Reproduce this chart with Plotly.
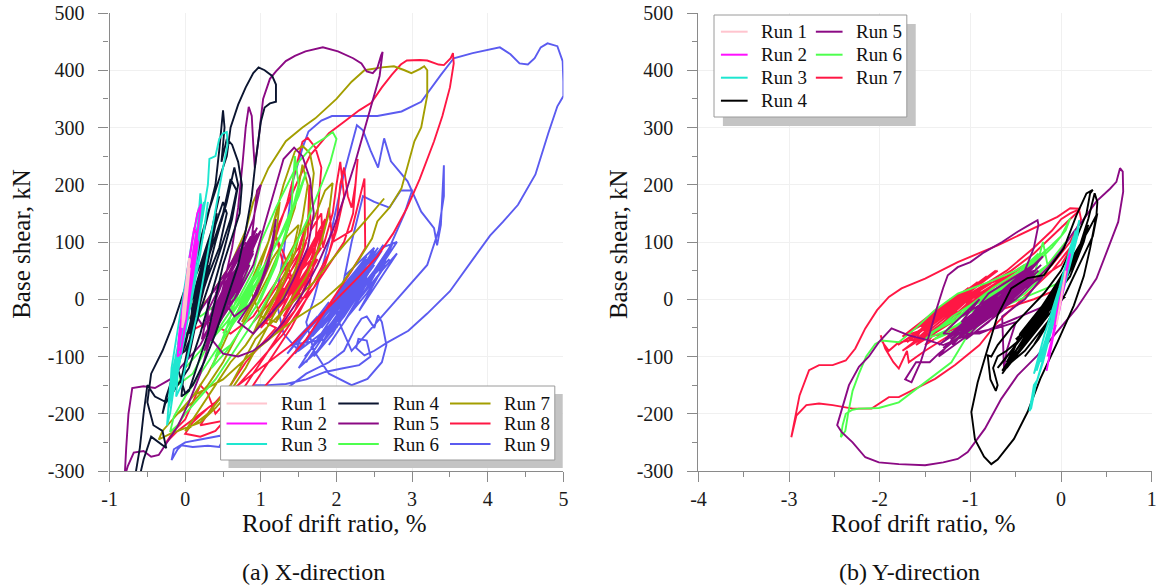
import plotly.graph_objects as go

# ---------------- data: roof drift ratio (%) vs base shear (kN) ----------------
RUN_LABELS_X = ["Run 1", "Run 2", "Run 3", "Run 4", "Run 5", "Run 6", "Run 7", "Run 8", "Run 9"]
RUN_LABELS_Y = ["Run 1", "Run 2", "Run 3", "Run 4", "Run 5", "Run 6", "Run 7"]

COLORS_X = ["#FFC4CE", "#FF10FF", "#1EE6D0", "#0B1530", "#8B0A84",
            "#4DFF4D", "#A39E00", "#FF1744", "#5B5BF0"]
COLORS_Y = ["#FFC4CE", "#FF10FF", "#1EE6D0", "#000000", "#8B0A84",
            "#4DFF4D", "#FF1744"]

X_TICKS_A = [-1, 0, 1, 2, 3, 4, 5]
X_TICKS_B = [-4, -3, -2, -1, 0, 1]
Y_TICKS = [-300, -200, -100, 0, 100, 200, 300, 400, 500]

# X-direction
X_RUN1 = [(0.0, 0), (0.03, 35), (0.06, 68), (0.05, 72), (0.01, 30), (-0.03, -20), (-0.04, -50),
          (-0.01, -35), (0.03, 15), (0.06, 55), (0.04, 45), (0.0, -5), (-0.03, -40), (0.0, -10),
          (0.04, 40), (0.02, 20), (0.0, 0)]

X_RUN2 = [(0.0, 0), (0.08, 60), (0.15, 115), (0.12, 125), (0.03, 50), (-0.04, -40), (-0.09, -90),
          (-0.05, -85), (0.04, -10), (0.13, 80), (0.19, 140), (0.21, 166), (0.16, 150), (0.07, 80),
          (-0.02, 0), (-0.08, -60), (-0.1, -100), (-0.06, -95), (0.02, -30), (0.1, 40), (0.17, 100),
          (0.14, 110), (0.05, 40), (-0.03, -30), (-0.07, -70), (0.0, -20), (0.09, 50), (0.16, 105),
          (0.12, 95), (0.03, 20), (-0.05, -50), (0.06, 30), (0.14, 90), (0.0, 0)]

X_RUN3 = [(0.0, 0), (0.1, 60), (0.2, 130), (0.18, 160), (0.1, 110), (0.0, 30), (-0.1, -50),
          (-0.18, -120), (-0.2, -160), (-0.15, -140), (-0.05, -60), (0.05, 20), (0.15, 100),
          (0.2, 185), (0.22, 160), (0.15, 120), (0.05, 40), (-0.08, -70), (-0.2, -150), (-0.24, -220),
          (-0.2, -200), (-0.1, -110), (0.0, -30), (0.1, 50), (0.2, 120), (0.3, 200), (0.32, 245),
          (0.4, 250), (0.45, 280), (0.5, 290), (0.55, 292), (0.56, 270), (0.5, 230), (0.42, 170),
          (0.33, 100), (0.25, 40), (0.15, -30), (0.05, -90), (-0.05, -150), (-0.12, -170),
          (-0.1, -130), (0.0, -60), (0.1, 10), (0.2, 80), (0.28, 150), (0.3, 170), (0.25, 120),
          (0.15, 50), (0.05, -20), (-0.05, -90), (-0.15, -160), (-0.08, -110), (0.05, -10),
          (0.15, 70), (0.2, 120), (0.12, 60), (0.0, 0), (-0.15, -150), (0.1, 60), (-0.1, -100),
          (0.15, 110), (-0.05, -60), (0.2, 140), (0.0, -20), (-0.18, -160), (0.05, 20),
          (-0.12, -110), (0.12, 90), (-0.08, -70), (0.18, 130), (0.02, 0), (-0.2, -170), (0.08, 40),
          (-0.1, -80), (0.25, 170), (0.05, 30), (-0.22, -190), (0.0, -40), (-0.18, -150), (0.05, 0),
          (-0.12, -120), (0.12, 60), (-0.06, -80), (0.18, 110), (0.0, -40), (0.22, 150),
          (-0.15, -130), (0.1, 50)]

X_RUN4 = [(0.0, 0), (0.2, 60), (0.35, 120), (0.3, 80), (0.15, 0), (0.0, -80), (-0.15, -130),
          (-0.25, -170), (-0.3, -200), (-0.2, -150), (-0.05, -60), (0.1, 40), (0.25, 120), (0.4, 200),
          (0.45, 260), (0.5, 330), (0.52, 300), (0.48, 240), (0.55, 280), (0.62, 270), (0.7, 240),
          (0.75, 200), (0.72, 150), (0.6, 100), (0.5, 60), (0.4, 0), (0.3, -60), (0.15, -120),
          (0.05, -160), (-0.05, -170), (-0.02, -130), (0.1, -60), (0.25, 20), (0.4, 100), (0.55, 170),
          (0.65, 230), (0.7, 200), (0.62, 140), (0.5, 80), (0.35, 10), (0.2, -60), (0.05, -120),
          (-0.1, -150), (-0.25, -180), (-0.4, -170), (-0.5, -150), (-0.55, -200), (-0.6, -260),
          (-0.65, -300), (-0.68, -330), (-0.62, -320), (-0.55, -280), (-0.45, -240), (-0.35, -250),
          (-0.25, -260), (-0.3, -230), (-0.42, -220), (-0.5, -180), (-0.45, -130), (-0.3, -90),
          (-0.15, -40), (0.0, 20), (0.15, 80), (0.3, 150), (0.45, 210), (0.55, 250), (0.6, 300),
          (0.7, 340), (0.8, 370), (0.9, 395), (0.97, 405), (1.05, 400), (1.15, 390), (1.2, 375),
          (1.2, 345), (1.12, 342), (1.05, 335), (1.0, 310), (0.93, 240), (0.88, 180), (0.8, 120),
          (0.7, 60), (0.55, 0), (0.4, -60), (0.25, -110), (0.1, -150), (0.0, -165), (-0.1, -120),
          (0.05, -50), (0.2, 30), (0.35, 90), (0.5, 150), (0.6, 210), (0.68, 190), (0.6, 140),
          (0.45, 80), (0.3, 20), (0.15, -40), (0.0, -90), (-0.1, -100), (0.0, -40), (0.2, 50),
          (0.35, 110), (0.5, 170), (0.55, 150), (0.45, 90), (0.3, 40), (0.15, -20), (0.05, -60),
          (0.1, -10), (0.25, 60), (0.3, 70), (0.05, -100), (0.3, 60), (0.1, -60), (0.35, 100),
          (0.15, -30), (0.4, 130), (0.2, 0), (0.0, -120), (0.25, 30), (0.05, -80), (0.3, 80),
          (0.12, -40), (0.38, 120), (0.2, 20), (-0.05, -140), (0.22, 10), (0.02, -100), (0.28, 70),
          (0.1, -20), (0.33, 110), (0.18, 40), (0.42, 150), (0.25, 60), (0.45, 180), (0.3, 90),
          (0.1, 0), (0.25, 50), (0.05, -60)]

X_RUN5 = [(0.0, 0), (0.25, -50), (0.55, 30), (0.45, -20), (0.75, 70), (0.6, 10), (0.9, 100),
          (0.7, 30), (0.4, -40), (0.6, 0), (0.35, -70), (0.65, 40), (0.5, -10), (0.8, 80),
          (0.95, 115), (0.7, 20), (0.3, -60), (0.45, -10), (0.7, 50), (0.55, 20), (0.85, 60),
          (0.65, 0), (0.4, -30), (0.2, -80), (0.0, -110), (-0.2, -140), (-0.4, -155), (-0.55, -152),
          (-0.7, -155), (-0.75, -200), (-0.78, -260), (-0.8, -310), (-0.76, -292), (-0.68, -268),
          (-0.55, -265), (-0.45, -275), (-0.35, -272), (-0.25, -252), (-0.1, -222), (0.05, -180),
          (0.2, -130), (0.35, -60), (0.5, 20), (0.62, 90), (0.7, 160), (0.76, 240), (0.8, 300),
          (0.84, 336), (0.88, 320), (0.9, 270), (0.92, 230), (0.97, 280), (1.03, 350), (1.12, 385),
          (1.2, 398), (1.33, 416), (1.45, 425), (1.59, 433), (1.7, 437), (1.82, 440), (2.02, 433),
          (2.22, 421), (2.33, 412), (2.4, 398), (2.48, 395), (2.54, 404), (2.59, 426), (2.61, 432),
          (2.57, 390), (2.41, 316), (2.25, 240), (2.11, 181), (1.95, 120), (1.75, 60), (1.55, 10),
          (1.3, -40), (1.1, -70), (0.9, -90), (0.7, -100), (0.5, -95), (0.35, -70), (0.5, -20),
          (0.75, 40), (0.9, 80), (0.6, 30), (0.35, -20), (0.55, 50), (0.8, 110), (0.7, 60), (0.45, 0),
          (0.3, -40), (0.6, 20), (0.85, 90), (1.0, 120), (0.8, 60), (0.5, -30), (0.25, -90),
          (0.4, -50), (0.7, 10), (0.9, 60), (1.05, 130), (1.2, 200), (1.3, 245), (1.44, 265),
          (1.55, 250), (1.65, 210), (1.7, 150), (1.62, 90), (1.45, 40), (1.3, 0), (1.1, -30),
          (0.9, -60), (0.7, -40), (0.95, 10), (1.1, 60), (1.2, 140), (1.15, 90), (1.0, 30),
          (0.85, -10), (0.65, -30), (0.5, 0), (0.7, 40), (0.85, 70), (0.95, 190), (1.0, 200),
          (0.9, 140), (0.75, 90), (0.55, 40), (0.35, 10), (0.2, -20), (0.4, 20), (0.6, 60),
          (0.8, 100), (0.65, 70), (0.45, 30), (0.3, 0), (0.3, -60), (0.55, 10), (0.35, -45),
          (0.65, 35), (0.42, -25), (0.72, 55), (0.5, -5), (0.8, 75), (0.58, 15), (0.86, 95),
          (0.62, 30), (0.4, -40), (0.68, 45), (0.45, -20), (0.75, 60), (0.5, 0), (0.82, 85),
          (0.6, 25), (0.33, -55), (0.57, 5), (0.28, -75), (0.6, 20), (0.38, -35), (0.7, 50),
          (0.48, -10), (0.78, 70), (0.55, 10), (0.88, 105), (0.66, 40), (0.92, 120), (0.7, 55),
          (0.44, -15), (0.73, 45), (0.52, -20), (0.8, 65), (0.6, 10), (0.36, -60), (0.64, 25),
          (0.42, -35), (0.76, 55), (0.5, 5), (0.84, 90), (0.63, 35), (0.9, 95), (0.68, 30),
          (0.47, -25), (0.26, -85), (0.52, -5), (0.32, -50), (0.62, 15), (0.4, -20), (0.71, 40),
          (0.54, 0), (0.83, 80), (0.6, 40), (0.37, -30), (0.66, 50), (0.46, 0), (0.74, 65),
          (0.56, 20), (0.87, 110), (0.7, 70), (0.5, 20), (0.78, 90), (0.6, 50), (0.4, 10),
          (0.65, 60), (0.45, 20), (0.3, -20), (0.22, -70), (0.5, -10), (0.27, -60), (0.58, 20),
          (0.34, -40), (0.66, 40), (0.41, -25), (0.74, 60), (0.49, -5), (0.81, 80), (0.56, 15),
          (0.89, 100), (0.64, 35), (0.95, 125), (0.72, 55), (0.48, -15), (0.79, 70), (0.53, 5),
          (0.85, 95), (0.61, 25), (0.38, -45), (0.69, 45), (0.43, -30), (0.77, 65), (0.51, -10),
          (0.3, -65), (0.59, 15), (0.35, -50), (0.67, 40), (0.93, 110), (0.7, 30), (0.46, -35),
          (0.75, 50), (0.54, -15), (0.82, 75), (0.62, 5), (0.9, 85), (0.67, 20)]

X_RUN6 = [(0.0, 0), (0.2, -30), (0.4, -10), (0.6, 20), (0.8, 60), (0.9, 90), (0.8, 40), (0.6, -10),
          (0.4, -50), (0.2, -90), (0.0, -120), (-0.1, -150), (0.1, -130), (0.3, -80), (0.5, -40),
          (0.7, 0), (0.9, 50), (1.0, 100), (1.1, 130), (1.2, 160), (1.35, 200), (1.5, 240),
          (1.7, 270), (1.85, 282), (1.95, 292), (2.0, 280), (1.92, 240), (1.8, 200), (1.62, 140),
          (1.4, 80), (1.2, 30), (1.0, -20), (0.8, -60), (0.6, -100), (0.4, -140), (0.2, -170),
          (0.0, -200), (-0.1, -220), (-0.2, -232), (-0.15, -205), (0.0, -170), (0.2, -130),
          (0.4, -90), (0.6, -50), (0.8, -10), (1.0, 40), (1.15, 80), (1.05, 50), (0.85, 10),
          (0.65, -30), (0.5, -60), (0.7, -20), (0.9, 20), (1.1, 70), (1.3, 120), (1.5, 180),
          (1.6, 222), (1.45, 170), (1.25, 110), (1.05, 60), (0.85, 20), (0.55, -40), (0.35, -70),
          (0.6, -20), (0.75, 80), (0.95, 110), (0.8, 70), (0.6, 30), (0.45, -20), (0.3, -60),
          (0.5, -30), (0.7, 10), (0.55, -50), (0.4, -100), (0.6, -80), (0.8, -40), (1.0, 0),
          (1.2, 60), (1.4, 150), (1.45, 250), (1.5, 200), (1.35, 120), (1.15, 50), (0.95, -10),
          (0.75, -50), (0.55, -90), (0.35, -120), (0.5, -70), (0.7, -30), (0.9, 0), (0.65, -40),
          (0.95, 30), (0.7, -10), (1.0, 60), (0.8, 0), (0.55, -60), (0.85, 20), (0.6, -30),
          (0.9, 40)]

X_RUN7 = [(0.0, -40), (0.3, 0), (0.6, 60), (0.8, 120), (0.9, 170), (1.0, 200), (1.1, 229),
          (1.33, 276), (1.55, 300), (1.72, 316), (2.0, 350), (2.2, 380), (2.37, 400), (2.6, 405),
          (2.76, 407), (2.9, 400), (2.99, 395), (3.1, 402), (3.16, 407), (3.2, 400), (3.2, 356),
          (3.12, 300), (3.03, 276), (2.86, 194), (2.7, 160), (2.54, 136), (2.47, 106), (2.3, 70),
          (2.07, 27), (1.8, -5), (1.48, -32), (1.2, -60), (0.86, -97), (0.5, -140), (0.11, -168),
          (-0.1, -200), (-0.3, -230), (-0.35, -245), (-0.2, -235), (0.0, -225), (0.2, -215),
          (0.4, -190), (0.6, -160), (0.8, -120), (1.0, -70), (1.2, -20), (1.4, 30), (1.55, 90),
          (1.65, 160), (1.7, 220), (1.65, 255), (1.55, 268), (1.45, 258), (1.3, 200), (1.2, 150),
          (1.1, 100), (0.9, 40), (0.7, -20), (0.5, -80), (0.3, -130), (0.1, -170), (-0.1, -200),
          (0.1, -180), (0.3, -150), (0.5, -110), (0.7, -60), (0.9, -10), (1.1, 40), (1.3, 100),
          (1.45, 160), (1.55, 235), (1.62, 200), (1.55, 140), (1.45, 80), (1.3, 30), (1.1, -20),
          (0.9, -60), (1.1, 0), (1.3, 60), (1.5, 110), (1.7, 140), (1.85, 190), (1.95, 203),
          (1.9, 150), (1.8, 100), (1.6, 40), (1.4, 0), (1.2, -40), (1.0, -30), (0.85, 20),
          (1.0, 60), (1.15, 120), (1.25, 170), (1.2, 110), (1.05, 50), (0.9, 0), (0.75, -40),
          (0.95, 10), (1.15, 70), (1.35, 110), (1.5, 130), (1.4, 70), (1.2, 10), (1.0, -40),
          (0.8, -80), (0.6, -110), (0.4, -150), (0.2, -190), (0.0, -230), (0.3, -200), (0.6, -150),
          (0.93, -69), (1.3, -20), (1.7, 30), (2.1, 95), (2.4, 140), (2.63, 176)]

X_RUN8 = [(0.0, -60), (0.3, -40), (0.6, -60), (0.9, -30), (1.1, 10), (1.3, 50), (1.5, 90),
          (1.6, 130), (1.5, 80), (1.3, 40), (1.1, 0), (0.9, -40), (1.1, -10), (1.3, 30), (1.5, 70),
          (1.62, 110), (1.64, 200), (1.66, 120), (1.8, 150), (1.82, 90), (1.95, 150), (2.0, 200),
          (2.05, 240), (2.1, 180), (2.0, 120), (1.85, 60), (1.7, 20), (1.5, -20), (1.3, -60),
          (1.1, -90), (0.9, -120), (0.7, -150), (0.5, -170), (0.3, -190), (0.1, -215), (0.0, -235),
          (0.2, -240), (0.4, -230), (0.6, -200), (0.8, -170), (1.0, -130), (1.2, -90), (1.4, -50),
          (1.6, 0), (1.7, 60), (1.75, 150), (1.8, 230), (1.72, 265), (1.62, 282), (1.55, 275),
          (1.45, 220), (1.35, 170), (1.2, 110), (1.05, 50), (0.9, 0), (1.05, 60), (1.2, 120),
          (1.33, 159), (1.5, 210), (1.65, 251), (1.9, 290), (2.11, 311), (2.3, 330), (2.46, 343),
          (2.6, 370), (2.73, 392), (2.85, 410), (2.93, 417), (3.1, 418), (3.2, 417), (3.35, 410),
          (3.42, 409), (3.51, 421), (3.54, 430), (3.55, 412), (3.5, 370), (3.4, 320), (3.29, 276),
          (3.1, 210), (2.93, 159), (2.75, 115), (2.54, 75), (2.3, 40), (2.0, 0), (1.7, -40),
          (1.4, -80), (1.1, -110), (0.8, -140), (0.5, -170), (0.2, -200), (-0.1, -230),
          (-0.25, -250), (-0.15, -230), (0.0, -210), (0.1, -180), (0.2, -150), (0.3, -165),
          (0.4, -200), (0.5, -185), (0.6, -200), (0.7, -170), (0.9, -130), (1.1, -90), (1.3, -50),
          (1.5, -10), (1.7, 30), (1.9, 80), (2.0, 130), (2.05, 200), (2.1, 230), (2.15, 180),
          (2.2, 160), (2.25, 200), (2.28, 245), (2.22, 150), (2.1, 100), (1.9, 60), (1.7, 20),
          (1.55, 0), (1.4, 40), (1.3, 80), (1.2, 110), (1.3, 60), (1.4, 30), (1.6, 60), (1.8, 90),
          (1.6, 50), (1.4, 10), (1.2, -20), (1.0, -50), (1.3, 20), (1.15, -20), (1.5, 60),
          (1.35, 10), (1.7, 100), (1.5, 40), (1.2, -40), (1.45, 30), (1.25, -10), (1.6, 80),
          (1.8, 120), (1.55, 30), (1.3, -30), (1.5, 10), (1.75, 70), (1.6, 50), (1.4, 0),
          (1.65, 90), (1.85, 140), (1.7, 60), (1.45, -20), (1.2, -60), (1.4, -10), (1.6, 40),
          (1.8, 100), (1.9, 160), (1.95, 100), (2.2, 120), (2.37, 211), (2.38, 89), (2.2, 50),
          (2.0, 10), (1.8, -30), (1.6, -70), (1.4, -100), (1.2, -130), (1.0, -160), (0.8, -190),
          (0.6, -210), (0.4, -215), (0.2, -220), (0.4, -180), (0.6, -150), (0.8, -110), (1.0, -80),
          (1.2, -50), (1.05, -40), (1.4, 20), (1.15, -25), (1.5, 45), (1.25, -5), (1.6, 70),
          (1.3, 10), (1.7, 95), (1.4, 30), (1.1, -35), (1.45, 35), (1.2, -15), (1.55, 60), (1.3, 5),
          (1.65, 85), (1.4, 25), (1.75, 110), (1.5, 50), (1.2, -20), (1.6, 65), (1.35, 15),
          (1.8, 120), (1.55, 55), (1.25, 0), (1.5, 40), (1.15, -30), (1.45, 30), (1.7, 90),
          (1.45, 40), (1.6, 100), (1.4, 50), (1.2, 0)]

X_RUN9 = [(1.6, -110), (2.0, -30), (1.8, -80), (2.2, 10), (2.0, -50), (2.4, 40), (2.2, -10),
          (2.6, 70), (2.4, 20), (2.1, -40), (2.5, 50), (2.7, 90), (2.45, 30), (2.2, -20), (1.9, -80),
          (2.3, 0), (2.6, 50), (2.8, 80), (2.5, 20), (2.3, -20), (2.55, 40), (2.75, 100), (2.5, 50),
          (2.2, 0), (1.95, -60), (1.7, -100), (2.05, -30), (2.35, 30), (2.65, 60), (2.4, 10),
          (2.15, -30), (2.45, 40), (2.7, 70), (2.4, 30), (2.1, -20), (1.8, -60), (1.5, -90),
          (1.3, -60), (1.2, 0), (1.3, 80), (1.42, 205), (1.55, 264), (1.63, 293), (1.8, 312),
          (1.94, 320), (2.2, 320), (2.54, 320), (2.86, 328), (3.12, 345), (3.38, 392), (3.55, 421),
          (3.8, 430), (4.16, 440), (4.3, 428), (4.42, 412), (4.53, 410), (4.62, 421), (4.7, 440),
          (4.79, 447), (4.92, 442), (4.99, 416), (5.0, 380), (5.0, 355), (4.92, 337), (4.8, 290),
          (4.63, 218), (4.4, 165), (4.2, 135), (4.03, 111), (3.81, 71), (3.5, 14), (3.2, -25),
          (2.95, -55), (2.68, -75), (2.5, -90), (2.37, -98), (2.26, -85), (2.29, -69), (2.4, -72),
          (2.45, -100), (2.3, -115), (2.07, -121), (1.85, -127), (1.6, -140), (1.33, -148),
          (1.1, -150), (0.93, -150), (0.7, -170), (0.6, -220), (0.45, -258), (0.3, -256),
          (0.1, -258), (-0.05, -255), (-0.1, -262), (-0.18, -281), (-0.15, -262), (0.0, -250),
          (0.2, -245), (0.4, -240), (0.6, -235), (0.8, -210), (1.0, -190), (1.3, -160), (1.6, -130),
          (1.9, -110), (2.1, -90), (2.25, -50), (2.33, -34), (2.4, -30), (2.5, -50), (2.55, -28),
          (2.6, -40), (2.66, -80), (2.6, -110), (2.41, -139), (2.2, -150), (1.9, -130), (1.7, -90),
          (1.6, -40), (1.7, 0), (1.9, 100), (2.1, 220), (2.27, 304), (2.35, 295), (2.45, 260),
          (2.55, 230), (2.63, 281), (2.72, 241), (2.94, 206), (3.12, 153), (3.29, 124), (3.33, 94),
          (3.38, 130), (3.42, 234), (3.42, 180), (3.35, 120), (3.2, 60), (3.0, 30), (2.8, 0),
          (2.6, -30), (2.4, -60), (2.2, -90), (2.0, -30), (2.2, 100), (2.35, 180), (2.5, 170),
          (2.7, 160), (2.85, 190), (3.0, 190), (2.9, 150), (2.8, 120), (2.7, 90), (2.6, 60),
          (2.3, 10), (2.0, -40), (1.75, -90), (1.5, -120), (1.8, -60), (2.0, -20), (2.2, 20),
          (2.4, 60), (2.6, 90), (2.8, 100), (2.6, 60), (2.35, 20), (2.1, -30), (1.85, -70),
          (1.4, -80), (1.75, -30), (1.5, -75), (1.9, -5), (1.62, -55), (2.05, 10), (1.75, -40),
          (2.2, 35), (1.85, -25), (2.3, 55), (1.95, -10), (2.4, 70), (2.05, 5), (2.5, 85),
          (2.15, 20), (1.8, -45), (2.25, 30), (1.9, -30), (2.35, 45), (2.0, -15), (2.45, 60),
          (2.1, 0), (2.55, 90), (2.2, 25), (1.85, -35), (1.5, -85), (1.95, -20), (1.6, -70),
          (2.1, 15), (1.7, -50), (2.2, 40), (1.8, -35), (2.3, 50), (1.95, -5), (2.4, 75),
          (2.05, 15), (2.5, 80), (2.15, 30), (2.45, 70), (2.0, 0), (1.65, -60), (2.15, 20),
          (1.75, -45), (2.25, 45), (1.85, -20), (2.35, 65), (2.0, 10), (2.42, 55), (2.1, 15),
          (1.7, -40), (1.35, -95), (1.55, -60), (1.45, -95), (1.85, -40), (1.55, -80), (1.98, -20),
          (1.68, -65), (2.12, 0), (1.8, -50), (2.25, 20), (1.92, -35), (2.38, 40), (2.02, -20),
          (2.5, 60), (2.14, -5), (2.6, 85), (2.26, 15), (1.9, -55), (2.32, 25), (1.96, -40),
          (2.42, 45), (2.06, -25), (2.52, 70), (2.16, -5), (2.62, 95), (2.28, 30), (1.94, -45),
          (1.58, -100), (2.0, -35), (1.66, -85), (2.14, -10), (1.76, -70), (2.24, 10), (1.86, -55),
          (2.34, 35), (1.98, -20), (2.44, 55), (2.08, 0), (2.54, 75), (2.2, 20), (2.5, 90),
          (2.1, 40)]

# Y-direction
Y_RUN1 = [(0.0, 0), (0.03, 30), (0.05, 50), (0.02, 20), (-0.02, -20), (-0.05, -45), (-0.03, -30),
          (0.01, 10), (0.04, 40), (0.0, 0)]

Y_RUN2 = [(0.0, 0), (0.05, 40), (0.09, 75), (0.07, 60), (0.0, 10), (-0.06, -40), (-0.12, -90),
          (-0.16, -125), (-0.14, -110), (-0.08, -60), (-0.02, -20), (0.04, 30), (0.1, 80),
          (0.06, 50), (-0.03, -10), (-0.1, -70), (-0.15, -100), (-0.1, -75), (-0.04, -30),
          (0.03, 20), (0.07, 55), (0.02, 15), (-0.05, -35), (0.0, 0)]

Y_RUN3 = [(0.0, 0), (0.08, 50), (0.15, 100), (0.2, 138), (0.18, 110), (0.1, 60), (0.0, 0),
          (-0.08, -40), (-0.15, -80), (-0.22, -120), (-0.28, -150), (-0.33, -190), (-0.35, -195),
          (-0.32, -170), (-0.3, -150), (-0.26, -140), (-0.2, -110), (-0.12, -60), (-0.05, -20),
          (0.03, 30), (0.1, 80), (0.14, 110), (0.1, 90), (0.02, 40), (-0.06, -10), (-0.15, -60),
          (-0.25, -110), (-0.3, -130), (-0.25, -100), (-0.18, -60), (-0.1, -20), (-0.02, 20),
          (0.05, 60), (0.0, 30), (-0.08, -20), (-0.16, -80), (-0.2, -100), (-0.12, -50),
          (-0.04, 0), (0.0, 0), (-0.22, -110), (0.06, 50), (-0.18, -90), (0.12, 90), (-0.27, -125),
          (0.02, 20), (-0.14, -70), (0.16, 120), (-0.06, -30), (0.0, 10)]

Y_RUN4 = [(0.0, 0), (-0.1, -30), (-0.25, -60), (-0.4, -90), (-0.55, -110), (-0.65, -125),
          (-0.55, -100), (-0.4, -70), (-0.25, -40), (-0.1, -10), (0.0, 20), (0.1, 50), (0.2, 90),
          (0.1, 60), (-0.05, 10), (-0.2, -30), (-0.35, -60), (-0.5, -90), (-0.6, -110), (-0.5, -80),
          (-0.35, -50), (-0.2, -20), (-0.05, 10), (0.1, 40), (0.25, 100), (0.3, 130), (0.2, 90),
          (0.05, 40), (-0.1, 0), (-0.3, -40), (-0.45, -70), (-0.6, -90), (-0.7, -100),
          (-0.75, -120), (-0.7, -150), (-0.72, -160), (-0.78, -140), (-0.81, -98), (-0.77, -100),
          (-0.7, -80), (-0.55, -50), (-0.37, -20), (-0.19, 10), (0.0, 50), (0.15, 100), (0.28, 150),
          (0.32, 185), (0.35, 191), (0.28, 185), (0.17, 147), (0.03, 89), (-0.19, 42), (-0.37, 37),
          (-0.55, 19), (-0.7, -28), (-0.81, -86), (-0.92, -145), (-0.99, -197), (-0.95, -245),
          (-0.85, -275), (-0.77, -288), (-0.7, -280), (-0.6, -260), (-0.52, -244), (-0.37, -197),
          (-0.23, -139), (-0.04, -75), (0.14, -11), (0.25, 40), (0.32, 89), (0.39, 147),
          (0.4, 170), (0.37, 185), (0.3, 140), (0.2, 90), (0.05, 40), (-0.1, 0), (-0.25, -40),
          (-0.4, -70), (-0.55, -100), (-0.45, -60), (-0.3, -30), (-0.15, 0), (0.0, 40), (0.15, 80),
          (0.3, 120), (0.4, 150), (0.35, 110), (0.2, 60), (0.05, 10), (-0.1, -30), (-0.25, -70),
          (-0.4, -100), (-0.3, -80), (-0.15, -40), (0.0, 0), (-0.6, -120), (-0.1, -10),
          (-0.5, -100), (0.0, 20), (-0.4, -80), (0.1, 50), (-0.3, -60), (0.2, 80), (-0.2, -40),
          (-0.55, -110), (-0.05, 0), (-0.45, -90), (0.05, 30), (-0.35, -70), (0.15, 70),
          (-0.25, -50), (0.25, 100), (-0.15, -20), (-0.65, -130), (-0.2, -30), (0.0, 10),
          (-0.4, -60), (0.1, 40), (-0.7, -120), (-0.2, -20), (-0.62, -105), (-0.12, 0),
          (-0.55, -90), (-0.05, 15), (-0.48, -75), (0.03, 35), (-0.42, -60), (0.1, 55),
          (-0.35, -45), (0.18, 80), (-0.28, -30), (0.24, 100), (-0.2, -15), (-0.6, -115),
          (-0.15, -5), (-0.52, -95), (-0.08, 10), (-0.45, -80), (0.0, 25), (-0.38, -65),
          (0.07, 45), (-0.3, -50), (0.14, 65), (-0.22, -35), (0.2, 85), (-0.12, -15), (-0.5, -70),
          (0.05, 5)]

Y_RUN5 = [(0.0, 0), (-0.3, -20), (-0.6, -40), (-0.9, -60), (-1.3, -60), (-0.9, 0), (-1.1, -40),
          (-0.6, 20), (-0.9, -20), (-0.4, 50), (-0.7, 0), (-1.0, -50), (-0.75, -10), (-1.2, -70),
          (-0.8, 10), (-0.5, 40), (-0.3, 60), (-0.6, 10), (-1.0, -60), (-1.35, -100), (-1.1, -50),
          (-0.7, -10), (-0.45, 30), (-0.2, 75), (-0.5, 30), (-0.85, -20), (-1.2, -80), (-0.95, -30),
          (-0.6, 0), (-0.35, 40), (-0.65, -20), (-1.05, -70), (-0.8, -40), (-0.5, 10), (-0.3, 90),
          (-0.25, 130), (-0.26, 138), (-0.35, 130), (-0.48, 118), (-0.65, 100), (-0.85, 82),
          (-1.0, 65), (-1.14, 56), (-1.25, 42), (-1.3, 20), (-1.38, -20), (-1.45, -60),
          (-1.55, -110), (-1.65, -145), (-1.72, -140), (-1.6, -110), (-1.45, -110), (-1.35, -95),
          (-1.2, -75), (-1.0, -50), (-0.8, -30), (-0.6, -10), (-0.4, 20), (-0.2, 40), (-0.4, 0),
          (-0.65, -30), (-0.63, -121), (-0.6, -90), (-0.5, -40), (-0.7, -50), (-1.0, -60),
          (-1.3, -80), (-1.5, -70), (-1.68, -63), (-1.87, -51), (-2.01, -75), (-2.12, -100),
          (-2.23, -118), (-2.34, -150), (-2.47, -220), (-2.42, -232), (-2.3, -250), (-2.16, -276),
          (-2.01, -285), (-1.79, -288), (-1.5, -290), (-1.3, -285), (-1.14, -279), (-1.03, -267),
          (-0.84, -226), (-0.66, -174), (-0.48, -133), (-0.26, -98), (-0.04, -57), (0.17, -16),
          (0.39, 36), (0.54, 100), (0.63, 135), (0.685, 188), (0.68, 223), (0.65, 229), (0.61, 205),
          (0.54, 193), (0.39, 171), (0.25, 140), (0.14, 118), (0.0, 85), (-0.15, 55), (-0.3, 30),
          (-0.5, 0), (-0.7, -20), (-0.9, -40), (-1.1, -60), (-0.9, -20), (-0.7, 10), (-0.5, 30),
          (-0.3, 50), (-0.5, 20), (-0.8, -10), (-1.0, -30), (-1.25, -65), (-0.8, -5), (-1.15, -55),
          (-0.7, 5), (-1.05, -45), (-0.6, 15), (-0.95, -35), (-0.5, 25), (-0.85, -25), (-0.4, 35),
          (-0.75, -15), (-0.3, 45), (-0.65, -5), (-1.1, -60), (-0.55, 5), (-1.0, -50), (-0.45, 15),
          (-0.9, -40), (-0.35, 30), (-0.8, -30), (-0.25, 50), (-0.7, -20), (-1.2, -75), (-0.6, -10),
          (-1.3, -85), (-0.85, -35), (-0.5, 0), (-0.95, -50), (-0.4, 20), (-0.75, -25), (-0.3, 35),
          (-1.35, -80), (-0.9, -25), (-1.28, -70), (-0.82, -15), (-1.18, -60), (-0.72, -5),
          (-1.08, -50), (-0.62, 10), (-0.98, -40), (-0.52, 20), (-0.88, -30), (-0.42, 30),
          (-0.78, -20), (-0.32, 45), (-0.68, -10), (-1.22, -70), (-0.58, 0), (-1.12, -60),
          (-0.48, 10), (-1.02, -50), (-0.38, 25), (-0.92, -40), (-0.28, 40), (-0.82, -25),
          (-0.22, 60), (-0.72, -15), (-0.4, 40), (-0.95, -20), (-0.6, 20), (-1.1, -30)]

Y_RUN6 = [(0.0, 30), (-0.3, 10), (-0.6, -10), (-0.9, -30), (-1.2, -50), (-1.5, -70), (-1.2, -30),
          (-0.9, 0), (-0.6, 30), (-0.3, 60), (-0.1, 90), (0.05, 120), (0.1, 141), (0.0, 110),
          (-0.2, 80), (-0.5, 50), (-0.8, 30), (-1.14, 10), (-1.4, -20), (-1.6, -50), (-1.79, -75),
          (-1.98, -72), (-2.05, -78), (-2.15, -100), (-2.23, -130), (-2.3, -160), (-2.35, -200),
          (-2.38, -230), (-2.43, -241), (-2.41, -220), (-2.375, -200), (-2.3, -193), (-2.23, -191),
          (-2.01, -190), (-1.79, -180), (-1.5, -145), (-1.21, -110), (-1.03, -63), (-0.8, -30),
          (-0.6, -10), (-0.4, 10), (-0.2, 40), (-0.05, 80), (0.05, 100), (-0.15, 60), (-0.4, 30),
          (-0.7, 0), (-1.0, -30), (-1.3, -60), (-1.0, -10), (-0.75, 20), (-0.45, 50), (-0.25, 80),
          (-0.5, 30), (-0.8, -10), (-1.1, -40), (-1.4, -70), (-1.1, -50), (-0.85, -20), (-0.6, 10),
          (-0.3, 40), (-0.2, 100), (-0.15, 60), (-0.4, 20), (-0.7, -20), (-0.95, -50),
          (-1.25, -80), (-1.0, -40), (-0.7, -10), (-0.5, 20), (-1.45, -60), (-1.0, -15),
          (-1.35, -50), (-0.85, 0), (-1.25, -40), (-0.7, 15), (-1.15, -30), (-0.55, 35),
          (-1.05, -20), (-0.4, 50), (-0.9, -10), (-0.25, 70), (-0.75, 5), (-0.1, 95), (-0.6, 20)]

Y_RUN7 = [(0.0, 20), (-0.3, 0), (-0.7, -20), (-1.0, -40), (-1.3, -60), (-1.6, -70), (-1.7, -60),
          (-1.3, -20), (-1.5, -50), (-1.0, 10), (-1.25, -30), (-0.8, 30), (-1.05, -10), (-1.4, -60),
          (-1.15, -20), (-1.6, -80), (-1.2, -40), (-0.9, 20), (-0.6, 40), (-0.95, 0), (-1.35, -50),
          (-1.75, -90), (-1.5, -60), (-1.1, -10), (-0.7, 30), (-0.4, 60), (-0.75, 20), (-1.2, -30),
          (-1.55, -70), (-1.3, -40), (-0.95, 10), (-0.55, 50), (-0.3, 80), (-0.1, 110), (0.1, 140),
          (0.2, 155), (0.22, 140), (0.1, 100), (-0.1, 60), (-0.4, 20), (-0.7, -10), (-1.0, -40),
          (-1.3, -70), (-1.5, -90), (-1.68, -110), (-1.7, -90), (-1.79, -121), (-1.85, -110),
          (-1.94, -86), (-1.99, -63), (-1.97, -75), (-1.9, -90), (-1.79, -75), (-1.6, -70),
          (-1.5, -40), (-1.2, -10), (-0.9, 20), (-0.6, 50), (-0.3, 90), (-0.1, 120), (0.0, 140),
          (0.1, 150), (0.21, 158), (0.1, 159), (-0.04, 144), (-0.34, 121), (-0.7, 94), (-1.14, 65),
          (-1.5, 36), (-1.76, 19), (-1.9, 4), (-2.03, -19), (-2.16, -51), (-2.27, -86),
          (-2.375, -107), (-2.52, -115), (-2.67, -115), (-2.78, -124), (-2.885, -168),
          (-2.976, -241), (-2.92, -203), (-2.81, -185), (-2.67, -182), (-2.52, -185), (-2.3, -191),
          (-2.09, -191), (-1.9, -171), (-1.79, -171), (-1.68, -162), (-1.39, -139), (-1.17, -115),
          (-0.9, -80), (-0.7, -40), (-0.5, -10), (-0.3, 20), (-0.1, 50), (0.05, 80), (0.15, 100),
          (0.0, 60), (-0.3, 30), (-0.6, 0), (-0.9, -30), (-1.2, -50), (-1.5, -80), (-1.3, -40),
          (-1.0, -10), (-0.7, 20), (-0.4, 50), (-1.65, -55), (-1.2, -5), (-1.55, -45), (-1.05, 10),
          (-1.45, -35), (-0.95, 25), (-1.35, -20), (-0.85, 35), (-1.25, -10), (-0.75, 45),
          (-1.15, 5), (-1.6, -60), (-1.1, 0), (-1.5, -50), (-1.0, 15), (-1.4, -30), (-0.9, 30),
          (-1.3, -15), (-0.8, 40), (-1.2, -5), (-0.7, 50), (-1.45, -40), (-1.7, -75), (-1.25, -20),
          (-1.55, -55), (-1.75, -65), (-1.3, -10), (-1.68, -60), (-1.22, 0), (-1.6, -50),
          (-1.12, 10), (-1.52, -40), (-1.02, 20), (-1.42, -30), (-0.92, 30), (-1.32, -20),
          (-0.82, 40), (-1.22, -10), (-0.72, 50), (-1.62, -65), (-1.12, -5), (-1.52, -55),
          (-1.02, 5), (-1.42, -45), (-0.92, 15), (-1.8, -80), (-1.35, -35), (-1.7, -85)]

RUNS_X = [X_RUN1, X_RUN2, X_RUN3, X_RUN4, X_RUN5, X_RUN6, X_RUN7, X_RUN8, X_RUN9]
RUNS_Y = [Y_RUN1, Y_RUN2, Y_RUN3, Y_RUN4, Y_RUN5, Y_RUN6, Y_RUN7]

# ---------------- geometry (pixels of a 1161 x 586 canvas) ----------------
W, H = 1161, 586
M_TOP, M_BOT = 13, 115
PLOT_H = H - M_TOP - M_BOT
FONT = "Liberation Serif"


def px_x(px):
    return px / W


def px_y(py):
    return (H - M_BOT - py) / PLOT_H


def tick_text(vals):
    # plain hyphen-minus for negative labels
    return [str(v) for v in vals]


fig = go.Figure()

# later runs drawn first so the early (small) runs sit on top
for i in reversed(range(len(RUNS_X))):
    pts = RUNS_X[i]
    fig.add_trace(go.Scatter(x=[p[0] for p in pts], y=[p[1] for p in pts], mode="lines",
                             line=dict(color=COLORS_X[i], width=1.9), name=RUN_LABELS_X[i],
                             showlegend=False, xaxis="x", yaxis="y"))
for i in reversed(range(len(RUNS_Y))):
    pts = RUNS_Y[i]
    fig.add_trace(go.Scatter(x=[p[0] for p in pts], y=[p[1] for p in pts], mode="lines",
                             line=dict(color=COLORS_Y[i], width=1.9), name=RUN_LABELS_Y[i],
                             showlegend=False, xaxis="x2", yaxis="y2"))

axis_common = dict(
    showline=True, linecolor="#8a8a8a", linewidth=1.3,
    ticks="outside", ticklen=10, tickwidth=1.2, tickcolor="#8a8a8a",
    showgrid=True, gridcolor="#f0f0f0", gridwidth=1, zeroline=False,
    tickfont=dict(family=FONT, size=20, color="#1a1a1a"),
)


def minor(step):
    return dict(dtick=step, tick0=0, ticklen=5, ticks="outside", tickcolor="#8a8a8a", showgrid=False)


fig.update_layout(
    width=W, height=H,
    font=dict(family=FONT),
    margin=dict(l=0, r=0, t=M_TOP, b=M_BOT),
    paper_bgcolor="white", plot_bgcolor="white",
    showlegend=False,
    xaxis=dict(domain=[px_x(102.7), px_x(561.7)], range=[-1, 5], anchor="y",
               tickmode="array", tickvals=X_TICKS_A, ticktext=tick_text(X_TICKS_A),
               minor=minor(0.5), **axis_common),
    yaxis=dict(domain=[0, 1], range=[-300, 500], anchor="x", ticklabelstandoff=10,
               tickmode="array", tickvals=Y_TICKS, ticktext=tick_text(Y_TICKS),
               minor=minor(50), **axis_common),
    xaxis2=dict(domain=[px_x(698.3), px_x(1156.7)], range=[-4, 1], anchor="y2",
                tickmode="array", tickvals=X_TICKS_B, ticktext=tick_text(X_TICKS_B),
                minor=minor(0.5), **axis_common),
    yaxis2=dict(domain=[0, 1], range=[-300, 500], anchor="x2", ticklabelstandoff=10,
                tickmode="array", tickvals=Y_TICKS, ticktext=tick_text(Y_TICKS),
                minor=minor(50), **axis_common),
)

shapes = []
annotations = []


def add_legend(box, shadow, rows_y, cols, labels, colors, order):
    x0, y0, x1, y1 = box
    shapes.append(dict(type="rect", xref="paper", yref="paper", layer="above",
                       x0=px_x(x0 + shadow), x1=px_x(x1 + shadow), y0=px_y(y1 + shadow), y1=px_y(y0 + shadow),
                       fillcolor="#c4c4c4", line=dict(width=0)))
    shapes.append(dict(type="rect", xref="paper", yref="paper", layer="above",
                       x0=px_x(x0), x1=px_x(x1), y0=px_y(y1), y1=px_y(y0),
                       fillcolor="white", line=dict(color="#9a9a9a", width=1)))
    for (ci, ri), k in order:
        lx0, lx1, tx = cols[ci]
        yy = rows_y[ri]
        shapes.append(dict(type="line", xref="paper", yref="paper", layer="above",
                           x0=px_x(lx0), x1=px_x(lx1), y0=px_y(yy), y1=px_y(yy),
                           line=dict(color=colors[k], width=2)))
        annotations.append(dict(xref="paper", yref="paper", x=px_x(tx), y=px_y(yy),
                                text=labels[k], showarrow=False, xanchor="left", yanchor="middle",
                                font=dict(family=FONT, size=19, color="#111")))


# X-direction legend: 3 columns x 3 rows, filled column by column
add_legend((215, 386, 553, 460), 8, [403.5, 423.5, 444],
           [(221, 262, 274), (334, 375, 387), (447, 488, 500)],
           RUN_LABELS_X, COLORS_X,
           [((k // 3, k % 3), k) for k in range(9)])
# Y-direction legend: 2 columns, 4 + 3 rows
add_legend((714, 15, 909, 117), 9, [31.7, 54.7, 77.7, 100.7],
           [(721, 748, 760), (817, 844, 856)],
           RUN_LABELS_Y, COLORS_Y,
           [((0, k), k) for k in range(4)] + [((1, k - 4), k) for k in range(4, 7)])

title_font = dict(family=FONT, size=25, color="#111")
for cx, txt in [(13, "Base shear, kN"), (617, "Base shear, kN")]:
    annotations.append(dict(xref="paper", yref="paper", x=px_x(cx), y=px_y(244), text=txt,
                            textangle=-90, showarrow=False, xanchor="center", yanchor="middle",
                            font=title_font))
for cx, txt in [(330, "Roof drift ratio, %"), (926, "Roof drift ratio, %")]:
    annotations.append(dict(xref="paper", yref="paper", x=px_x(cx), y=px_y(523), text=txt,
                            showarrow=False, xanchor="center", yanchor="middle", font=title_font))
for cx, txt in [(309, "(a) X-direction"), (912, "(b) Y-direction")]:
    annotations.append(dict(xref="paper", yref="paper", x=px_x(cx), y=px_y(572), text=txt,
                            showarrow=False, xanchor="center", yanchor="middle",
                            font=dict(family=FONT, size=24, color="#111")))

fig.update_layout(shapes=shapes, annotations=annotations)
fig.write_html("out.html")
